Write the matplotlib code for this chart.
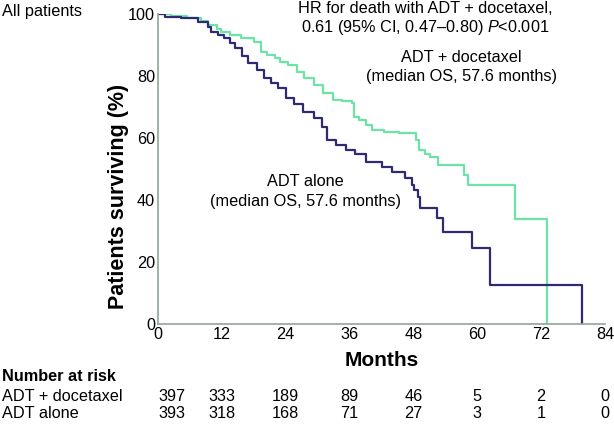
import matplotlib
matplotlib.use("Agg")
import matplotlib.pyplot as plt
import matplotlib.transforms as mtransforms

plt.rcParams['font.family'] = ['Liberation Sans', 'DejaVu Sans']
plt.rcParams['mathtext.fontset'] = 'custom'
plt.rcParams['mathtext.rm'] = 'Liberation Sans'
plt.rcParams['mathtext.it'] = 'Liberation Sans:italic'

# KM curves (months, % surviving), step after each time
doc_t = [0, 2.5, 5.5, 8.0, 9.4, 11.0, 11.9, 13.5, 15.6, 18.1, 19.4, 20.5, 21.9, 23.0,
         24.4, 26.2, 27.5, 29.3, 31.0, 32.8, 34.5, 36.5, 36.8, 37.8, 39.0, 40.2, 42.5,
         45.2, 48.4, 49.0, 50.2, 51.2, 52.7, 57.5, 58.3, 67.1, 73.1]
doc_s = [100, 99.5, 98.8, 97.9, 96.5, 95.3, 94.3, 93.2, 92.2, 91.1, 87.8, 86.8, 85.7, 84.6,
         83.5, 81.4, 79.5, 77.1, 74.6, 72.3, 71.8, 71.2, 66.9, 65.8, 64.2, 62.6, 62.0,
         61.5, 59.4, 56.1, 55.0, 54.0, 51.3, 48.1, 44.8, 33.9, 0]

alone_t = [0, 1.3, 4.4, 7.5, 9.4, 10.0, 11.2, 12.5, 13.5, 14.4, 15.7, 16.9, 18.7, 20.0,
           21.2, 22.5, 24.1, 25.5, 27.2, 29.3, 30.9, 31.8, 33.5, 35.3, 37.0, 39.0, 42.1,
           44.0, 46.5, 47.7, 48.1, 48.8, 49.2, 52.5, 53.6, 59.0, 62.4, 79.7]
alone_s = [100, 99.1, 98.6, 97.5, 95.9, 94.3, 93.2, 92.2, 90.5, 88.9, 86.5, 84.1, 81.9, 79.3,
           77.6, 76.0, 72.8, 71.0, 68.5, 66.4, 63.6, 59.4, 57.8, 56.1, 55.0, 52.4, 50.8,
           49.1, 47.0, 44.8, 43.2, 41.1, 37.3, 34.1, 29.8, 24.4, 12.6, 0]

months = [0, 12, 24, 36, 48, 60, 72, 84]
risk_doc = [397, 333, 189, 89, 46, 5, 2, 0]
risk_alone = [393, 318, 168, 71, 27, 3, 1, 0]
yticks = [0, 20, 40, 60, 80, 100]

green = '#6ee3a6'
navy = '#2f2a72'
spine = '#8ea597'
fs = 11.7

fig = plt.figure(figsize=(6.14, 4.25), dpi=100)
ax = fig.add_axes([0.2573, 0.2376, 0.7280, 0.7294])

ax.step(doc_t, doc_s, where='post', color=green, lw=1.6)
ax.step(alone_t, alone_s, where='post', color=navy, lw=1.6)

ax.set_xlim(0, 84)
ax.set_ylim(0, 100)
ax.set_xticks(months)
ax.set_yticks(yticks)
ax.tick_params(length=0, labelsize=fs, pad=2)
for s in ['top', 'right']:
    ax.spines[s].set_visible(False)
for s in ['left', 'bottom']:
    ax.spines[s].set_color(spine)
    ax.spines[s].set_linewidth(1.2)

ax.set_ylabel('Patients surviving (%)', fontsize=15.5, fontweight='bold')
ax.yaxis.set_label_coords(-0.089, 0.41)
ax.set_xlabel('Months', fontsize=15, fontweight='bold')
ax.xaxis.set_label_coords(0.5, -0.119)
ax.xaxis.label.set_va('center')
ax.yaxis.label.set_va('center')

fig.text(0.003, 0.972, 'All patients', fontsize=fs, va='center')
fig.text(0.692, 0.980, 'HR for death with ADT + docetaxel,', fontsize=fs, ha='center', va='center')
fig.text(0.692, 0.936, r'0.61 (95% CI, 0.47–0.80) $\mathit{P}$<0.001', fontsize=fs,
         ha='center', va='center')
fig.text(0.751, 0.864, 'ADT + docetaxel', fontsize=fs, ha='center', va='center')
fig.text(0.751, 0.821, '(median OS, 57.6 months)', fontsize=fs, ha='center', va='center')
fig.text(0.498, 0.572, 'ADT alone', fontsize=fs, ha='center', va='center')
fig.text(0.498, 0.525, '(median OS, 57.6 months)', fontsize=fs, ha='center', va='center')

# number at risk table
fig.text(0.003, 0.115, 'Number at risk', fontsize=fs, fontweight='bold', va='center')
fig.text(0.003, 0.068, 'ADT + docetaxel', fontsize=fs, va='center')
fig.text(0.003, 0.027, 'ADT alone', fontsize=fs, va='center')
trans = mtransforms.blended_transform_factory(ax.transData, fig.transFigure)
for i, m in enumerate(months):
    ha = 'left' if i == 0 else 'center'
    ax.text(m, 0.068, str(risk_doc[i]), fontsize=fs, ha=ha, va='center', transform=trans)
    ax.text(m, 0.027, str(risk_alone[i]), fontsize=fs, ha=ha, va='center', transform=trans)

fig.savefig('out.png', dpi=100)
